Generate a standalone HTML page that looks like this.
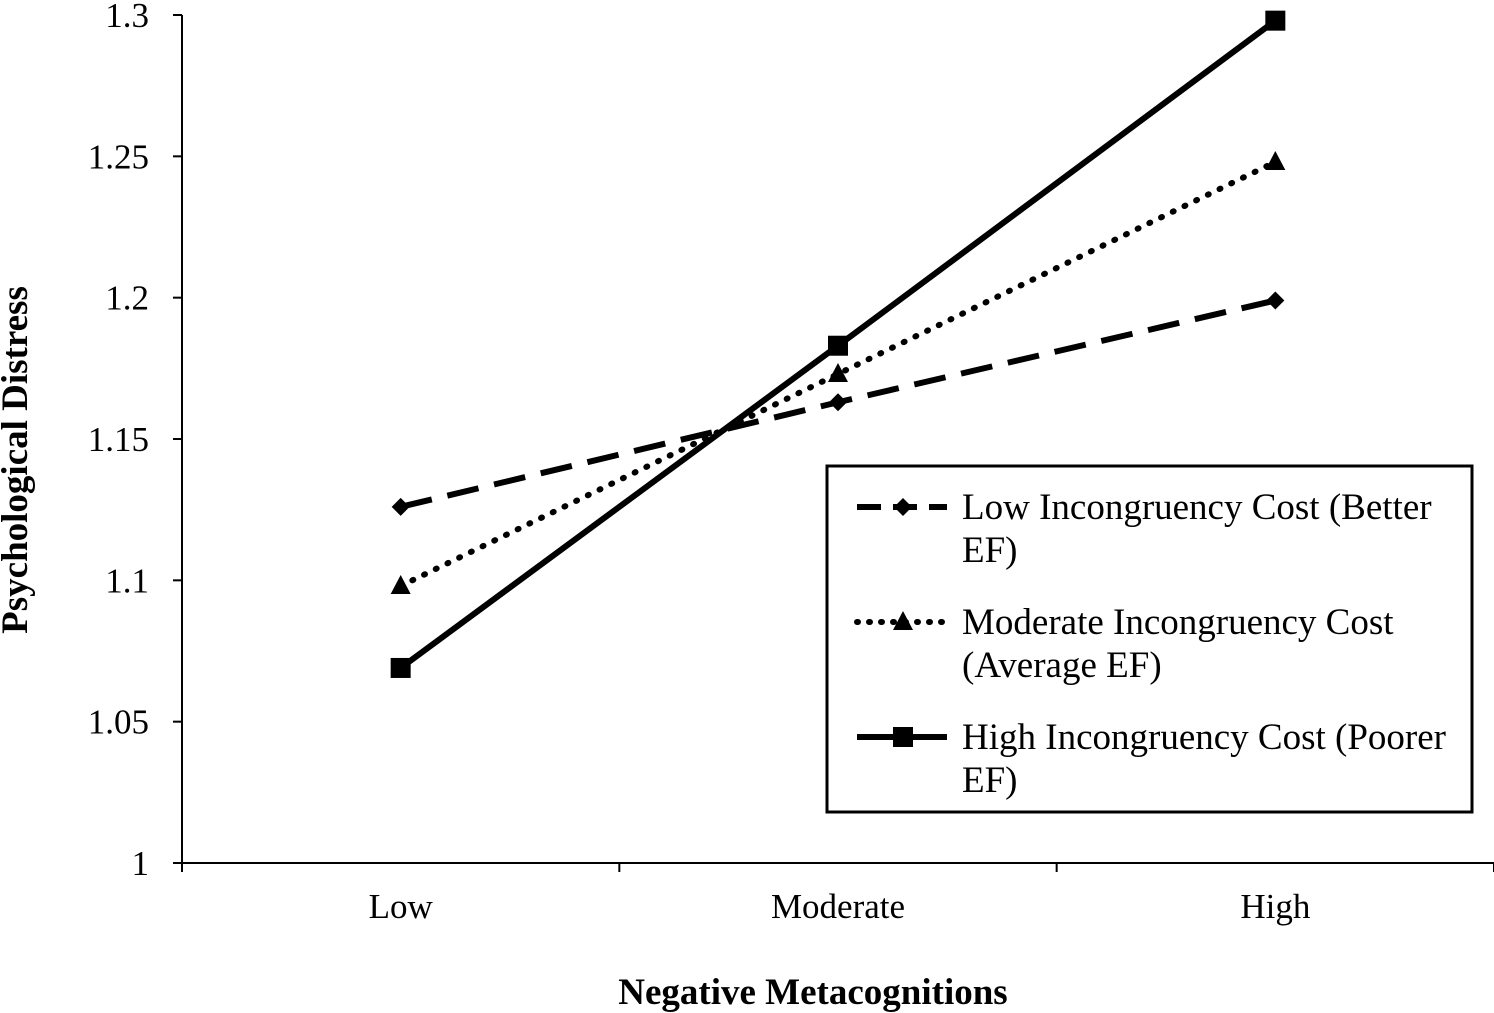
<!DOCTYPE html>
<html><head><meta charset="utf-8"><style>
html,body{margin:0;padding:0;background:#fff;}
svg{display:block;font-family:"Liberation Serif",serif;}
</style></head><body>
<svg id="chart" width="1494" height="1013" viewBox="0 0 1494 1013" xmlns="http://www.w3.org/2000/svg">
<g id="axes"></g><g id="series"></g>
<g>
<rect x="827" y="466" width="645" height="346" fill="#fff" stroke="#000" stroke-width="3"/>
<g>
<line x1="857" y1="507" x2="947" y2="507" stroke="#000" stroke-width="6" stroke-dasharray="24,12"/>
<path d="M903 498 L912 507 L903 516 L894 507Z" fill="#000"/>
<text x="962" y="519" font-size="37">Low Incongruency Cost (Better</text>
<text x="962" y="562" font-size="37">EF)</text></g>
<g>
<line x1="857" y1="622" x2="947" y2="622" stroke="#000" stroke-width="6" stroke-dasharray="1,11" stroke-linecap="round"/>
<path d="M903 611 L913 630 L893 630Z" fill="#000"/>
<text x="962" y="634" font-size="37">Moderate Incongruency Cost</text>
<text x="962" y="677" font-size="37">(Average EF)</text></g>
<g>
<line x1="857" y1="737" x2="947" y2="737" stroke="#000" stroke-width="6"/>
<rect x="893" y="727" width="20" height="20" fill="#000"/>
<text x="962" y="749" font-size="37">High Incongruency Cost (Poorer</text>
<text x="962" y="792" font-size="37">EF)</text></g>
</g>
<text transform="translate(27,460) rotate(-90)" text-anchor="middle" font-size="37" font-weight="bold">Psychological Distress</text>
<text x="813" y="1004" text-anchor="middle" font-size="37" font-weight="bold">Negative Metacognitions</text>
</svg>
<script>
const categories=["Low","Moderate","High"];
const yTicks=[1,1.05,1.1,1.15,1.2,1.25,1.3];
const lowCost=[1.126,1.163,1.199];
const modCost=[1.098,1.173,1.248];
const highCost=[1.069,1.183,1.298];
const NS="http://www.w3.org/2000/svg";
const x0=182,x1=1494,yTop=15,yBot=863,ymin=1,ymax=1.3;
const band=(x1-x0)/categories.length;
const X=i=>x0+band*(i+0.5);
const Y=v=>yBot-(v-ymin)/(ymax-ymin)*(yBot-yTop);
function mk(tag,attrs,parent){const e=document.createElementNS(NS,tag);for(const k in attrs)e.setAttribute(k,attrs[k]);parent.appendChild(e);return e;}
const axes=document.getElementById('axes');
const ya=mk('line',{x1:x0,y1:yTop,x2:x0,y2:yBot,stroke:'#000','stroke-width':2},axes);


const xa=mk('line',{x1:x0,y1:yBot,x2:x1,y2:yBot,stroke:'#000','stroke-width':2},axes);


yTicks.forEach(t=>{const y=Y(t);
mk('line',{x1:x0-9,y1:y,x2:x0,y2:y,stroke:'#000','stroke-width':2},axes);
const tx=mk('text',{x:x0-33,y:y+12,'text-anchor':'end','font-size':35},axes);


tx.textContent=String(t);});
for(let i=0;i<=categories.length;i++){const x=x0+band*i;mk('line',{x1:x,y1:yBot,x2:x,y2:yBot+9,stroke:'#000','stroke-width':2},axes);}
categories.forEach((c,i)=>{const tx=mk('text',{x:X(i),y:918,'text-anchor':'middle','font-size':35},axes);


tx.textContent=c;});
const sg=document.getElementById('series');
function series(vals,name,dash,marker,round){
const pts=vals.map((v,i)=>X(i)+','+Y(v)).join(' ');
const pl=mk('polyline',{points:pts,fill:'none',stroke:'#000','stroke-width':6,'stroke-dasharray':dash,'stroke-linecap':round?'round':'butt'},sg);


vals.forEach((v,i)=>{const x=X(i),y=Y(v);let m;
if(marker==='d')m=mk('path',{d:`M${x} ${y-9}L${x+9} ${y}L${x} ${y+9}L${x-9} ${y}Z`,fill:'#000'},sg);
else if(marker==='t')m=mk('path',{d:`M${x} ${y-11}L${x+10} ${y+8}L${x-10} ${y+8}Z`,fill:'#000'},sg);
else m=mk('rect',{x:x-10,y:y-10,width:20,height:20,fill:'#000'},sg);

});}
series(lowCost,'low-cost','32,16','d',false);
series(modCost,'moderate-cost','1,12','t',true);
series(highCost,'high-cost','none','s',false);
</script>
</body></html>
